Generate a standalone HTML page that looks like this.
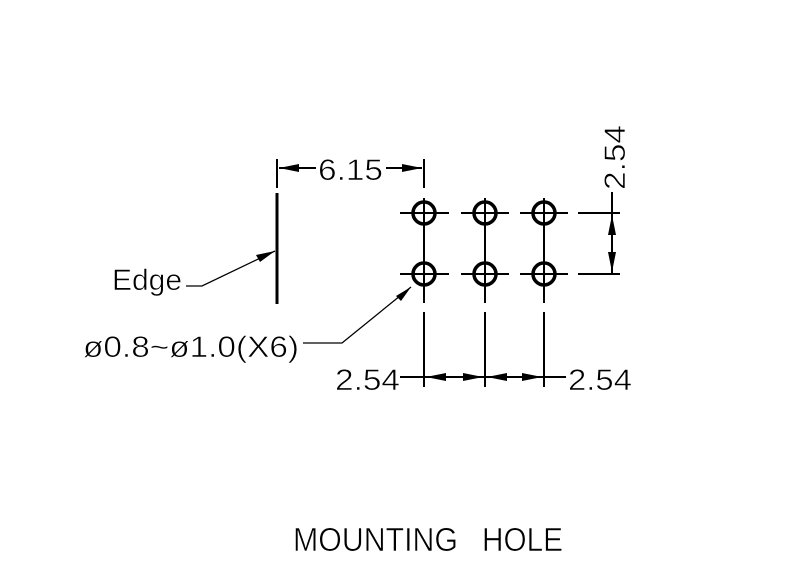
<!DOCTYPE html>
<html><head><style>body{margin:0;background:#fff}svg{display:block}</style></head><body>
<svg width="800" height="576" viewBox="0 0 800 576" xmlns="http://www.w3.org/2000/svg" font-family="Liberation Sans, sans-serif">
<rect width="800" height="576" fill="#fff"/>
<g stroke="#000" fill="none">
<line x1="277" y1="159" x2="277" y2="188" stroke-width="2"/>
<line x1="277" y1="193" x2="277" y2="304" stroke-width="3"/>
<line x1="424" y1="159" x2="424" y2="188" stroke-width="2"/>
<line x1="279" y1="168" x2="316" y2="168" stroke-width="2"/>
<line x1="386" y1="168" x2="422" y2="168" stroke-width="2"/>
<line x1="424" y1="198" x2="424" y2="303" stroke-width="2"/>
<line x1="485" y1="198" x2="485" y2="303" stroke-width="2"/>
<line x1="544" y1="198" x2="544" y2="303" stroke-width="2"/>
<line x1="400" y1="213" x2="449" y2="213" stroke-width="2"/>
<line x1="461" y1="213" x2="509" y2="213" stroke-width="2"/>
<line x1="520" y1="213" x2="568" y2="213" stroke-width="2"/>
<line x1="400" y1="274" x2="449" y2="274" stroke-width="2"/>
<line x1="461" y1="274" x2="509" y2="274" stroke-width="2"/>
<line x1="520" y1="274" x2="568" y2="274" stroke-width="2"/>
<circle cx="424" cy="213" r="11" stroke-width="3.5"/>
<circle cx="485" cy="213" r="11" stroke-width="3.5"/>
<circle cx="544" cy="213" r="11" stroke-width="3.5"/>
<circle cx="424" cy="274" r="11" stroke-width="3.5"/>
<circle cx="485" cy="274" r="11" stroke-width="3.5"/>
<circle cx="544" cy="274" r="11" stroke-width="3.5"/>
<line x1="578" y1="213" x2="620" y2="213" stroke-width="2"/>
<line x1="578" y1="274" x2="620" y2="274" stroke-width="2"/>
<line x1="612" y1="192" x2="612" y2="274" stroke-width="2"/>
<line x1="424" y1="312" x2="424" y2="387" stroke-width="2"/>
<line x1="485" y1="312" x2="485" y2="387" stroke-width="2"/>
<line x1="544" y1="312" x2="544" y2="387" stroke-width="2"/>
<line x1="400" y1="377" x2="566" y2="377" stroke-width="2"/>
<polyline points="186,286 202,286 275,251" stroke-width="1.3"/>
<polyline points="303,343 342,343 411,287" stroke-width="1.3"/>
</g>
<g fill="#000">
<polygon points="279,168 299,164 299,172"/>
<polygon points="422,168 402,164 402,172"/>
<polygon points="612,215 608,235 616,235"/>
<polygon points="612,272 608,252 616,252"/>
<polygon points="426,377 446,373 446,381"/>
<polygon points="483,377 463,373 463,381"/>
<polygon points="487,377 507,373 507,381"/>
<polygon points="542,377 522,373 522,381"/>
<polygon points="275,251 256,255 260,262"/>
<polygon points="411,287 396,296 401,301"/>
</g>
<g fill="#000" font-size="30" stroke="#fff" stroke-width="0.6">
<text x="318" y="180" textLength="65" lengthAdjust="spacingAndGlyphs">6.15</text>
<text x="112" y="290" textLength="70" lengthAdjust="spacingAndGlyphs">Edge</text>
<text x="83" y="357" textLength="216" lengthAdjust="spacingAndGlyphs">ø0.8~ø1.0(X6)</text>
<text x="335" y="390" textLength="65" lengthAdjust="spacingAndGlyphs">2.54</text>
<text x="568" y="390" textLength="64" lengthAdjust="spacingAndGlyphs">2.54</text>
<text transform="translate(625,190) rotate(-90)" textLength="65" lengthAdjust="spacingAndGlyphs">2.54</text>
<text x="293" y="551" font-size="33" textLength="165" lengthAdjust="spacingAndGlyphs">MOUNTING</text>
<text x="482" y="551" font-size="33" textLength="81" lengthAdjust="spacingAndGlyphs">HOLE</text>
</g>
</svg>
</body></html>
